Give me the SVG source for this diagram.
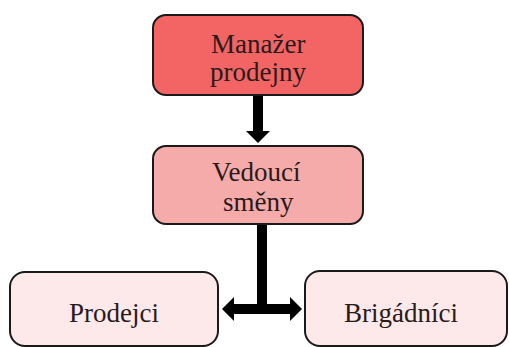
<svg xmlns="http://www.w3.org/2000/svg" width="509" height="347" viewBox="0 0 509 347">
  <defs>
    <marker id="ah" viewBox="0 0 12 24" refX="0" refY="12" markerWidth="12" markerHeight="24" markerUnits="userSpaceOnUse" orient="auto-start-reverse">
      <path d="M0,0 L12,12 L0,24 z" fill="#000"/>
    </marker>
  </defs>
  <rect width="509" height="347" fill="#fff"/>
  <g id="manazer">
    <rect x="153" y="15" width="210" height="80" rx="13" fill="#f36464" stroke="#1a1a1a" stroke-width="2"/>
    <text x="211" y="53" font-family="Liberation Serif" font-size="27" fill="#2a1a1a">Manažer</text>
    <text x="210" y="81" font-family="Liberation Serif" font-size="27" fill="#2a1a1a">prodejny</text>
  </g>
  <g id="vedouci">
    <rect x="153" y="146" width="210" height="78" rx="13" fill="#f6abab" stroke="#1a1a1a" stroke-width="2"/>
    <text x="212" y="181" font-family="Liberation Serif" font-size="27" fill="#2a1a1a">Vedoucí</text>
    <text x="223" y="211" font-family="Liberation Serif" font-size="27" fill="#2a1a1a">směny</text>
  </g>
  <g id="prodejci">
    <rect x="10" y="272" width="208" height="74" rx="15" fill="#fde9e9" stroke="#1a1a1a" stroke-width="2"/>
    <text x="69" y="322" font-family="Liberation Serif" font-size="27" fill="#2a1a1a">Prodejci</text>
  </g>
  <g id="brigadnici">
    <rect x="305" y="271" width="202" height="75" rx="15" fill="#fde9e9" stroke="#1a1a1a" stroke-width="2"/>
    <text x="344" y="322" font-family="Liberation Serif" font-size="27" fill="#2a1a1a">Brigádníci</text>
  </g>
  <g id="connectors" stroke="#000" stroke-width="10" fill="none">
    <line x1="258" y1="96" x2="258" y2="131" marker-end="url(#ah)"/>
    <line x1="262" y1="225" x2="262" y2="314"/>
    <line x1="234" y1="309" x2="290" y2="309" marker-start="url(#ah)" marker-end="url(#ah)"/>
  </g>
</svg>
